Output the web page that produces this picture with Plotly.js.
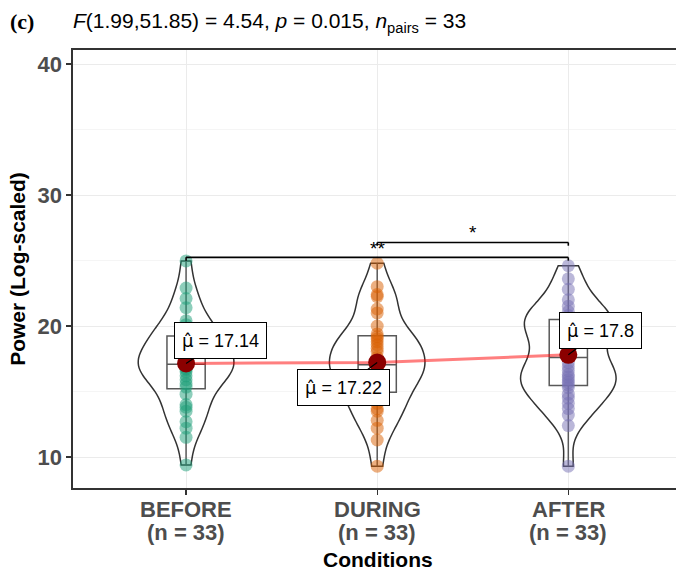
<!DOCTYPE html>
<html>
<head>
<meta charset="utf-8">
<script src="https://cdn.plot.ly/plotly-3.0.1.min.js"></script>
<style>
  html, body { margin: 0; padding: 0; overflow: hidden; background: #fff; }
  #chart { width: 700px; height: 573px; }
</style>
</head>
<body>
<div id="chart"></div>
<script>
// ---------------- data ----------------
const categories = ['BEFORE', 'DURING', 'AFTER'];
const nCounts = [33, 33, 33];
const beforeVals = [9.4, 11.5, 12.2, 12.7, 13.5, 13.8, 14.0, 14.8, 15.34, 15.6, 15.9, 16.2, 16.5, 16.7, 16.8, 17.0, 17.09,
  17.3, 17.5, 17.8, 18.1, 18.2, 18.5, 19.0, 19.15, 19.5, 19.7, 20.1, 20.4, 21.4, 22.1, 22.9, 24.97];
const duringVals = [9.3, 11.3, 12.2, 12.8, 13.5, 13.7, 14.1, 14.5, 15.08, 15.4, 15.7, 16.0, 16.3, 16.6, 16.8, 16.95, 17.04,
  17.3, 17.6, 18.05, 18.3, 18.57, 18.8, 19.0, 19.2, 19.4, 20.0, 21.0, 21.3, 22.25, 22.4, 23.0, 24.8];
const afterVals = [9.3, 12.4, 13.2, 13.7, 14.1, 14.5, 14.8, 15.3, 15.51, 15.7, 15.9, 16.1, 16.3, 16.6, 16.9, 17.2, 17.6,
  18.1, 18.5, 18.9, 19.3, 19.7, 20.0, 20.3, 20.47, 20.6, 20.8, 21.1, 21.5, 22.0, 22.8, 23.6, 24.6];
const groupVals = [beforeVals, duringVals, afterVals];
const meanVals = [17.14, 17.22, 17.8];
const meanLabels = ['17.14', '17.22', '17.8'];
const compPairs = [['BEFORE', 'AFTER'], ['DURING', 'AFTER']];
const compY = [25.24, 26.38];
const compLabels = ['**', '*'];
const statText = '<i>F</i>(1.99,51.85) = 4.54, <i>p</i> = 0.015, <i>n</i><sub>pairs</sub> = 33';
const panelLabel = '(c)';
const yTitle = 'Power (Log-scaled)';
const xTitle = 'Conditions';

// ---------------- style ----------------
const pointColors = ['rgba(27,158,119,0.5)', 'rgba(217,95,2,0.5)', 'rgba(117,112,179,0.5)'];
const labelOffsets = [[34, -23], [-34, 25], [32, -24]];
const FONT = 'Liberation Sans, Arial, sans-serif';
const bracketTip = 0.25;

const traces = [];
// violins
categories.forEach((c, i) => {
  traces.push({
    type: 'violin', x: groupVals[i].map(() => c), y: groupVals[i],
    spanmode: 'hard', bandwidth: 1.2, points: false,
    box: { visible: false }, meanline: { visible: false },
    line: { color: '#333333', width: 1.5 }, fillcolor: 'rgba(255,255,255,0)',
    width: 0.5, scalemode: 'count', scalegroup: 'all',
    hoverinfo: 'skip', showlegend: false
  });
});
// boxes
categories.forEach((c, i) => {
  traces.push({
    type: 'box', x: groupVals[i].map(() => c), y: groupVals[i],
    boxpoints: false, width: 0.2, whiskerwidth: 0,
    line: { color: '#595959', width: 1.5 }, fillcolor: 'rgba(255,255,255,0)',
    hoverinfo: 'skip', showlegend: false
  });
});
// points
categories.forEach((c, i) => {
  traces.push({
    type: 'scatter', mode: 'markers', x: groupVals[i].map(() => c), y: groupVals[i],
    marker: { size: 13, color: pointColors[i], line: { width: 0 } },
    hoverinfo: 'y', showlegend: false
  });
});
// mean path
traces.push({
  type: 'scatter', mode: 'lines', x: categories, y: meanVals,
  line: { color: 'rgba(255,0,0,0.5)', width: 3 }, hoverinfo: 'skip', showlegend: false
});
// mean points
traces.push({
  type: 'scatter', mode: 'markers', x: categories, y: meanVals,
  marker: { size: 18, color: '#8B0000' }, hoverinfo: 'y', showlegend: false
});

const annotations = [];
// mean labels
categories.forEach((c, i) => {
  annotations.push({
    x: c, y: meanVals[i], xref: 'x', yref: 'y',
    text: '<span style="font-family:DejaVu Sans">\u03BC\u0302</span> = ' + meanLabels[i],
    showarrow: true, arrowhead: 0, arrowwidth: 1.2, arrowcolor: '#000', standoff: 0,
    ax: labelOffsets[i][0], ay: labelOffsets[i][1],
    bgcolor: '#fff', bordercolor: '#000', borderwidth: 1, borderpad: 7,
    font: { family: FONT, size: 18, color: '#000' }
  });
});
// x category labels
categories.forEach((c, i) => {
  annotations.push({
    x: c, y: 0, xref: 'x', yref: 'paper', yanchor: 'middle', yshift: -21,
    text: c, showarrow: false,
    font: { family: FONT, size: 22, color: '#4D4D4D', weight: 'bold' }
  });
  annotations.push({
    x: c, y: 0, xref: 'x', yref: 'paper', yanchor: 'middle', yshift: -44,
    text: '(n = ' + nCounts[i] + ')', showarrow: false,
    font: { family: FONT, size: 22, color: '#4D4D4D', weight: 'bold' }
  });
});
// x title
annotations.push({
  x: 0.5, y: 0, xref: 'paper', yref: 'paper', yanchor: 'middle', yshift: -71,
  text: xTitle, showarrow: false,
  font: { family: FONT, size: 21, color: '#000', weight: 'bold' }
});
// panel label
const W = 700, H = 573, ML = 73, MR = 17, MT = 50, MB = 85;
const pw = W - ML - MR, ph = H - MT - MB;
annotations.push({
  x: (22 - ML) / pw, y: (H - 21 - MB) / ph, xref: 'paper', yref: 'paper',
  xanchor: 'center', yanchor: 'middle', showarrow: false, text: panelLabel,
  font: { family: 'Liberation Serif, Times New Roman, serif', size: 22, color: '#000', weight: 'bold' }
});

// comparison brackets
const shapes = [];
compPairs.forEach((p, k) => {
  const a = categories.indexOf(p[0]), b = categories.indexOf(p[1]);
  const ln = { color: '#000', width: 1.6 };
  shapes.push({ type: 'line', xref: 'x', yref: 'y', x0: a, x1: b, y0: compY[k], y1: compY[k], line: ln });
  shapes.push({ type: 'line', xref: 'x', yref: 'y', x0: a, x1: a, y0: compY[k], y1: compY[k] - bracketTip, line: ln });
  shapes.push({ type: 'line', xref: 'x', yref: 'y', x0: b, x1: b, y0: compY[k], y1: compY[k] - bracketTip, line: ln });
  annotations.push({
    x: (a + b) / 2, y: compY[k], xref: 'x', yref: 'y', yanchor: 'middle', yshift: k === 0 ? 9 : 10,
    text: compLabels[k], showarrow: false, font: { family: FONT, size: 19, color: '#000' }
  });
});

const layout = {
  width: W, height: H,
  margin: { l: ML, r: MR, t: MT, b: MB },
  paper_bgcolor: '#fff', plot_bgcolor: '#fff',
  font: { family: FONT },
  title: {
    text: statText, x: ML / W, xanchor: 'left', xref: 'container',
    y: 1 - 21 / H, yanchor: 'middle', yref: 'container',
    font: { family: FONT, size: 21, color: '#000' }
  },
  xaxis: {
    type: 'category', categoryorder: 'array', categoryarray: categories,
    range: [-(186 - ML) / 191, 2.6],
    showticklabels: false, ticks: 'outside', ticklen: 5, tickcolor: '#333', tickwidth: 1.2,
    showgrid: true, gridcolor: '#EBEBEB', gridwidth: 1,
    showline: true, linecolor: '#333', linewidth: 1.6, mirror: true, zeroline: false
  },
  yaxis: {
    range: [7.635, 41.07], tick0: 0, dtick: 10,
    ticks: 'outside', ticklen: 5, tickcolor: '#333', tickwidth: 1.2,
    tickfont: { family: FONT, size: 22, color: '#4D4D4D', weight: 'bold' },
    showgrid: true, gridcolor: '#EBEBEB', gridwidth: 1,
    minor: { dtick: 5, tick0: 0, showgrid: true, gridcolor: '#EFEFEF', gridwidth: 0.6 },
    showline: true, linecolor: '#333', linewidth: 1.6, mirror: true, zeroline: false,
    title: { text: yTitle, standoff: 6, font: { family: FONT, size: 21, color: '#000', weight: 'bold' } }
  },
  violinmode: 'overlay', boxmode: 'overlay',
  shapes: shapes, annotations: annotations, showlegend: false
};

Plotly.newPlot('chart', traces, layout, { displayModeBar: false, staticPlot: true });
</script>
</body>
</html>
